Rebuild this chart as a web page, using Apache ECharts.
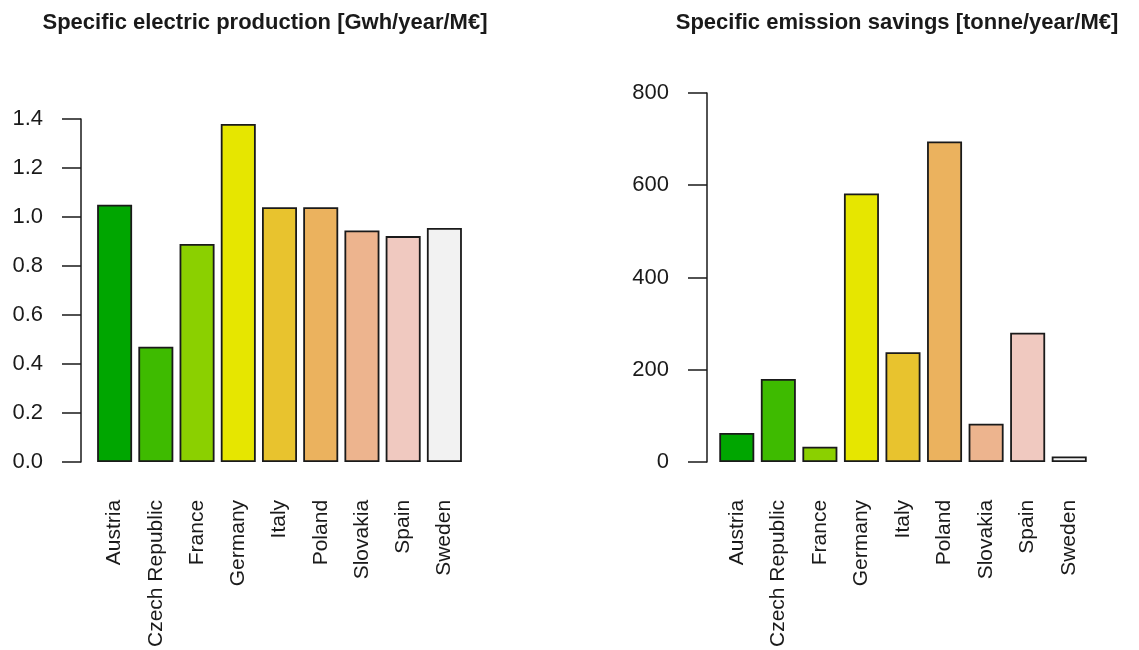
<!DOCTYPE html>
<html>
<head>
<meta charset="utf-8">
<script src="https://cdn.jsdelivr.net/npm/echarts@6/dist/echarts.min.js"></script>
<style>
  html, body { margin: 0; padding: 0; background: #ffffff; }
  #chart { width: 1139px; height: 650px; }
</style>
</head>
<body>
<div id="chart"></div>
<script>
  // data
  const countries = ['Austria', 'Czech Republic', 'France', 'Germany', 'Italy', 'Poland', 'Slovakia', 'Spain', 'Sweden'];
  const electricProduction = [1.05, 0.47, 0.89, 1.38, 1.04, 1.04, 0.945, 0.922, 0.955];
  const emissionSavings = [63, 180, 33, 582, 238, 695, 83, 280, 12];
  const productionTicks = [0, 0.2, 0.4, 0.6, 0.8, 1.0, 1.2, 1.4];
  const savingsTicks = [0, 200, 400, 600, 800];

  // terrain.colors(9)
  const palette = ['#00A600', '#3EBB00', '#8BD000', '#E6E600', '#E8C32E', '#EBB25E', '#EDB48E', '#F0C9C0', '#F2F2F2'];

  const font = 'Liberation Sans, Arial, sans-serif';
  const ink = '#1a1a1a';

  function xAxis(gridIndex) {
    return {
      type: 'category',
      gridIndex: gridIndex,
      data: countries,
      axisLine: {show: false},
      axisTick: {show: false},
      axisLabel: {
        rotate: 90,
        interval: 0,
        margin: 38,
        fontFamily: font,
        fontSize: 21,
        color: ink
      }
    }
  }

  function yAxis(gridIndex, ticks, offset, fmt) {
    return {
      type: 'value',
      gridIndex: gridIndex,
      min: ticks[0],
      max: ticks[ticks.length - 1],
      interval: ticks[1] - ticks[0],
      offset: offset,
      splitLine: {show: false},
      axisLine: {show: true, lineStyle: {color: ink, width: 1.5}},
      axisTick: {show: true, length: 19, lineStyle: {color: ink, width: 1.5}},
      axisLabel: {
        margin: 38,
        fontFamily: font,
        fontSize: 22,
        color: ink,
        formatter: fmt
      }
    }
  }

  function barSeries(idx, values) {
    return {
      type: 'bar',
      xAxisIndex: idx,
      yAxisIndex: idx,
      barWidth: 35,
      data: values.map(function (v, i) {
        return {value: v, itemStyle: {color: palette[i]}};
      }),
      itemStyle: {borderColor: ink, borderWidth: 1.8}
    }
  }

  let myChart = echarts.init(document.getElementById('chart'), null, {renderer: 'canvas'});

  myChart.setOption({
    animation: false,
    backgroundColor: '#ffffff',
    title: [
      {
        text: 'Specific electric production [Gwh/year/M€]',
        left: 260,
        top: 7,
        textAlign: 'center',
        textStyle: {fontFamily: font, fontSize: 22, fontWeight: 'bold', color: ink}
      },
      {
        text: 'Specific emission savings [tonne/year/M€]',
        left: 892,
        top: 7,
        textAlign: 'center',
        textStyle: {fontFamily: font, fontSize: 22, fontWeight: 'bold', color: ink}
      }
    ],
    grid: [
      {left: 94, top: 119, width: 371, height: 343},
      {left: 716, top: 93, width: 374, height: 369}
    ],
    xAxis: [xAxis(0), xAxis(1)],
    yAxis: [
      yAxis(0, productionTicks, 13, function (v) { return v.toFixed(1); }),
      yAxis(1, savingsTicks, 9, function (v) { return String(v); })
    ],
    series: [
      barSeries(0, electricProduction),
      barSeries(1, emissionSavings)
    ]
  });
</script>
</body>
</html>
